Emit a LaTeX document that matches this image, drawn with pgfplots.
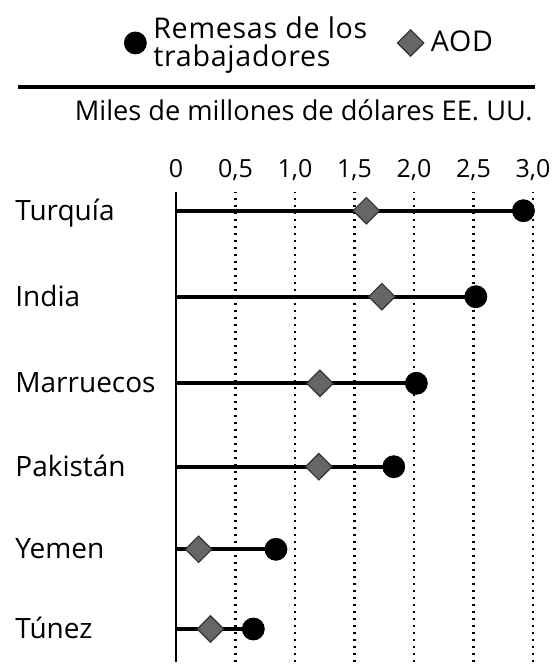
\documentclass[border=0pt]{standalone}
\usepackage{pgfplots}
\usepackage{pgfplotstable}
\pgfplotsset{compat=1.18}
\usepackage{fontspec}
\setmainfont{Open Sans}
\newfontfamily\legfont{Open Sans}[LetterSpace=2.5]
\pgfdeclareplotmark{rdiamond}{%
  \pgfsetcornersarced{\pgfpoint{2pt}{2pt}}%
  \pgfpathmoveto{\pgfpoint{0.5\pgfplotmarksize}{0.5\pgfplotmarksize}}%
  \pgfpathlineto{\pgfpoint{\pgfplotmarksize}{0pt}}%
  \pgfpathlineto{\pgfpoint{0pt}{-\pgfplotmarksize}}%
  \pgfpathlineto{\pgfpoint{-\pgfplotmarksize}{0pt}}%
  \pgfpathlineto{\pgfpoint{0pt}{\pgfplotmarksize}}%
  \pgfpathclose
  \pgfusepathqfillstroke}
\pgfplotstableread{
y rem aod
451.3 2.92 1.60
365.3 2.52 1.73
278.7 2.02 1.21
195.3 1.83 1.20
112.7 0.84 0.19
33 0.65 0.29
}\data
\begin{document}
\begin{tikzpicture}
\useasboundingbox (0,0) rectangle (279pt,-332.5pt);
\draw[line width=1.7pt] (9pt,-43.5pt) -- (267.5pt,-43.5pt);
\node[anchor=base east, inner sep=0pt, font=\fontsize{13.6}{15}\selectfont] at (266.5pt,-60pt) {Miles de millones de dólares EE. UU.};
\begin{axis}[
  at={(88pt,-331pt)}, anchor=south west,
  scale only axis, width=178.5pt, height=235pt,
  xmin=0, xmax=3, ymin=0, ymax=470,
  clip=false,
  axis x line*=top, axis y line*=left,
  x axis line style={draw=none},
  y axis line style={-, line width=1pt},
  tick style={draw=none},
  xmajorgrids,
  grid style={black, line width=1.1pt, dash pattern=on 1.1pt off 2.4pt},
  xtick={0,0.5,1,1.5,2,2.5,3},
  xticklabels={0,{0,5},{1,0},{1,5},{2,0},{2,5},{3,0}},
  xticklabel style={anchor=base, inner sep=0pt, yshift=7.5pt, font=\fontsize{12.5}{14}\selectfont},
  ytick={33,112.7,195.3,278.7,365.3,451.3},
  yticklabels={Túnez,Yemen,Pakistán,Marruecos,India,Turquía},
  yticklabel style={anchor=base west, inner sep=0pt, xshift=-80.5pt, yshift=-4.8pt, font=\fontsize{14}{16}\selectfont},
  legend columns=2,
  legend image code/.code={\draw[#1] plot coordinates {(0pt,0pt)};},
  legend style={draw=none, fill=none, inner sep=0pt, nodes={inner sep=0pt},
    at={(axis description cs:-0.1457,1.3745)}, anchor=north west,
    font=\legfont\fontsize{14.3}{14.2}\selectfont, cells={align=left},
    /tikz/every odd column/.append style={column sep=3.5pt},
    /tikz/column 3/.append style={column sep=5.5pt},
    /tikz/every even column/.append style={column sep=15pt}},
  legend cell align=left,
]
\addplot[xcomb, black, line width=2pt, forget plot] table[x=rem,y=y]{\data};
\addplot[only marks, mark=*, mark size=5.5pt, black] table[x=rem,y=y]{\data};
\addplot[only marks, mark=rdiamond, mark size=6.6pt, mark options={fill=black!60, draw=black!80, line width=0.6pt}] table[x=aod,y=y]{\data};
\legend{{Remesas de los\\trabajadores},AOD}
\end{axis}
\end{tikzpicture}
\end{document}
